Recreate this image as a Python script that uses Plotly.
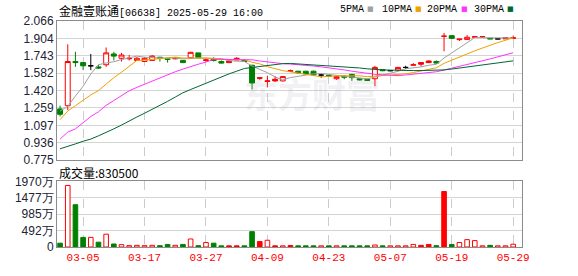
import plotly.graph_objects as go

dates = ["02-28", "03-03", "03-04", "03-05", "03-06", "03-07", "03-10", "03-11", "03-12", "03-13",
         "03-14", "03-17", "03-18", "03-19", "03-20", "03-21", "03-24", "03-25", "03-26", "03-27",
         "03-28", "03-31", "04-01", "04-02", "04-03", "04-07", "04-08", "04-09", "04-10", "04-11",
         "04-14", "04-15", "04-16", "04-17", "04-22", "04-23", "04-24", "04-25", "04-28", "04-29",
         "04-30", "05-02", "05-06", "05-07", "05-08", "05-09", "05-12", "05-13", "05-14", "05-15",
         "05-16", "05-19", "05-20", "05-21", "05-22", "05-23", "05-26", "05-27", "05-28", "05-29"]

opens = [1.25, 1.28, 1.69, 1.68, 1.65, 1.64, 1.66, 1.76, 1.72, 1.715,
         1.70, 1.69, 1.70, 1.73, 1.715, 1.715, 1.70, 1.725, 1.77, 1.70,
         1.715, 1.69, 1.695, 1.72, 1.70, 1.655, 1.54, 1.505, 1.525, 1.51,
         1.605, 1.60, 1.60, 1.60, 1.565, 1.56, 1.53, 1.555, 1.57, 1.53,
         1.525, 1.53, 1.615, 1.605, 1.61, 1.635, 1.655, 1.68, 1.695, 1.69,
         1.925, 1.93, 1.893, 1.895, 1.915, 1.918, 1.905, 1.90, 1.90, 1.905]
highs = [1.28, 1.85, 1.78, 1.68, 1.76, 1.66, 1.82, 1.78, 1.77, 1.75,
         1.73, 1.73, 1.75, 1.73, 1.72, 1.73, 1.70, 1.78, 1.77, 1.71,
         1.73, 1.70, 1.70, 1.73, 1.70, 1.66, 1.545, 1.555, 1.555, 1.555,
         1.615, 1.60, 1.60, 1.605, 1.57, 1.565, 1.555, 1.56, 1.575, 1.53,
         1.53, 1.65, 1.62, 1.61, 1.64, 1.65, 1.675, 1.68, 1.70, 1.70,
         1.955, 1.935, 1.90, 1.935, 1.92, 1.92, 1.905, 1.90, 1.915, 1.93]
lows = [1.18, 1.24, 1.64, 1.61, 1.61, 1.62, 1.64, 1.70, 1.69, 1.70,
        1.70, 1.69, 1.70, 1.69, 1.68, 1.71, 1.675, 1.72, 1.72, 1.69,
        1.69, 1.67, 1.675, 1.70, 1.685, 1.43, 1.52, 1.45, 1.50, 1.505,
        1.595, 1.58, 1.57, 1.56, 1.54, 1.55, 1.52, 1.525, 1.51, 1.515,
        1.51, 1.46, 1.60, 1.60, 1.605, 1.62, 1.655, 1.645, 1.675, 1.67,
        1.785, 1.90, 1.88, 1.89, 1.915, 1.915, 1.90, 1.90, 1.90, 1.90]
closes = [1.20, 1.69, 1.68, 1.65, 1.65, 1.63, 1.77, 1.74, 1.75, 1.72,
          1.72, 1.72, 1.74, 1.72, 1.71, 1.72, 1.68, 1.775, 1.725, 1.705,
          1.70, 1.675, 1.68, 1.705, 1.69, 1.49, 1.535, 1.51, 1.51, 1.55,
          1.60, 1.585, 1.575, 1.565, 1.565, 1.555, 1.55, 1.545, 1.54, 1.52,
          1.515, 1.635, 1.605, 1.605, 1.635, 1.635, 1.66, 1.665, 1.68, 1.675,
          1.925, 1.905, 1.898, 1.915, 1.92, 1.92, 1.90, 1.90, 1.91, 1.91]

# volume in 万 shares
volumes = [115, 1846, 1269, 288, 288, 144, 384, 90, 70, 40,
           50, 40, 50, 40, 77, 50, 77, 240, 40, 134,
           115, 35, 35, 35, 35, 461, 163, 202, 35, 35,
           45, 35, 35, 35, 35, 35, 35, 35, 35, 35,
           35, 60, 35, 35, 35, 35, 77, 50, 77, 40,
           1664, 77, 134, 221, 192, 35, 50, 35, 35, 83]

ma5 = [1.23, 1.274, 1.37, 1.46, 1.574, 1.660, 1.676, 1.688, 1.708, 1.722,
       1.740, 1.730, 1.730, 1.724, 1.722, 1.722, 1.714, 1.721, 1.722, 1.721,
       1.717, 1.716, 1.697, 1.693, 1.690, 1.648, 1.620, 1.586, 1.547, 1.519,
       1.541, 1.551, 1.562, 1.575, 1.578, 1.569, 1.562, 1.552, 1.547, 1.537,
       1.529, 1.546, 1.563, 1.575, 1.599, 1.623, 1.628, 1.640, 1.655, 1.664,
       1.722, 1.771, 1.817, 1.864, 1.912, 1.911, 1.910, 1.911, 1.910, 1.908]
ma10 = [1.15, 1.23, 1.28, 1.33, 1.38, 1.42, 1.48, 1.54, 1.59, 1.648,
        1.700, 1.703, 1.709, 1.716, 1.722, 1.731, 1.722, 1.726, 1.723, 1.722,
        1.720, 1.715, 1.709, 1.708, 1.706, 1.683, 1.668, 1.642, 1.620, 1.605,
        1.594, 1.585, 1.574, 1.560, 1.548, 1.554, 1.556, 1.557, 1.560, 1.557,
        1.549, 1.554, 1.557, 1.561, 1.568, 1.576, 1.587, 1.602, 1.615, 1.632,
        1.673, 1.700, 1.729, 1.760, 1.789, 1.817, 1.841, 1.865, 1.888, 1.910]
ma20 = [0.970, 1.035, 1.065, 1.119, 1.179, 1.223, 1.283, 1.328, 1.373, 1.418,
        1.45, 1.48, 1.51, 1.54, 1.57, 1.595, 1.62, 1.645, 1.665, 1.685,
        1.710, 1.709, 1.709, 1.711, 1.713, 1.706, 1.695, 1.685, 1.676, 1.670,
        1.666, 1.662, 1.656, 1.648, 1.640, 1.632, 1.624, 1.612, 1.600, 1.588,
        1.576, 1.571, 1.567, 1.562, 1.559, 1.565, 1.571, 1.579, 1.588, 1.595,
        1.611, 1.627, 1.643, 1.661, 1.678, 1.697, 1.714, 1.733, 1.752, 1.771]
ma30 = [0.88, 0.90, 0.925, 0.95, 0.97, 1.00, 1.03, 1.065, 1.10, 1.14,
        1.175, 1.21, 1.245, 1.28, 1.32, 1.36, 1.40, 1.43, 1.46, 1.49,
        1.52, 1.55, 1.575, 1.60, 1.625, 1.635, 1.645, 1.655, 1.665, 1.67,
        1.672, 1.668, 1.664, 1.66, 1.655, 1.65, 1.645, 1.64, 1.635, 1.63,
        1.622, 1.615, 1.612, 1.61, 1.607, 1.606, 1.606, 1.606, 1.606, 1.607,
        1.612, 1.62, 1.63, 1.64, 1.65, 1.66, 1.67, 1.678, 1.687, 1.696]

tick_dates = ["03-05", "03-17", "03-27", "04-09", "04-23", "05-07", "05-19", "05-29"]
price_ticks = ["0.775", "0.936", "1.097", "1.259", "1.420", "1.582", "1.743", "1.904", "2.066"]
vol_ticks = [0, 492, 985, 1477, 1970]
vol_tick_text = ["0", "492万", "985万", "1477万", "1970万"]
title_name = "金融壹账通"
title_rest = "[06638] 2025-05-29 16:00"
vol_title = "成交量:830500"
ma_names = ["5PMA", "10PMA", "20PMA", "30PMA"]

RED = "#ff0000"
GREEN = "#008000"
BLACK = "#000000"
MA_COLORS = ["#a0a0a0", "#f0a000", "#ff33ff", "#006633"]

n = len(dates)
xs = list(range(n))


def category(i):
    o, c = opens[i], closes[i]
    pc = closes[i - 1] if i > 0 else o
    if c > o:
        return "rh"
    if c < o:
        return "rs" if c >= pc else "g"
    if c > pc:
        return "rs"
    if c < pc:
        return "g"
    return "k"


cats = [category(i) for i in xs]
styles = {
    "rh": (RED, "#ffffff"),
    "rs": (RED, RED),
    "g": (GREEN, GREEN),
    "k": (BLACK, BLACK),
}

fig = go.Figure()

for key, (lc, fc) in styles.items():
    idx = [i for i in xs if cats[i] == key]
    if not idx:
        continue
    side = dict(line=dict(color=lc, width=1), fillcolor=fc)
    fig.add_trace(go.Candlestick(
        x=idx, open=[opens[i] for i in idx], high=[highs[i] for i in idx],
        low=[lows[i] for i in idx], close=[closes[i] for i in idx],
        increasing=side, decreasing=side, whiskerwidth=0,
        hoverinfo="skip", showlegend=False, xaxis="x", yaxis="y"))

for vals, col in zip([ma5, ma10, ma20, ma30], MA_COLORS):
    fig.add_trace(go.Scatter(x=xs, y=vals, mode="lines", line=dict(color=col, width=1),
                             hoverinfo="skip", showlegend=False, xaxis="x", yaxis="y"))

vol_styles = {"rh": (RED, "#ffffff"), "rs": (RED, RED), "g": (GREEN, GREEN)}
for key, (lc, fc) in vol_styles.items():
    idx = [i for i in xs if (cats[i] if cats[i] != "k" else "rh") == key]
    fig.add_trace(go.Bar(x=idx, y=[volumes[i] for i in idx], width=0.6,
                         marker=dict(color=fc, line=dict(color=lc, width=1)),
                         hoverinfo="skip", showlegend=False, xaxis="x2", yaxis="y2"))

# geometry helpers (pixel -> paper)
L, R, T, B = 57, 522, 21, 255
def px(x):
    return (x - L) / (R - L)
def py(y):
    return (B - y) / (B - T)

tickpos = [dates.index(d) for d in tick_dates]
price_vals = [float(t) for t in price_ticks]

axis_common = dict(showline=True, mirror=True, linecolor="#8c8c8c", linewidth=1,
                   zeroline=False, ticks="", fixedrange=True)

fig.update_layout(
    width=578, height=276,
    margin=dict(l=L, r=578 - R, t=T, b=276 - B),
    paper_bgcolor="white", plot_bgcolor="white",
    hovermode=False, showlegend=False,
    boxgap=0.2, boxgroupgap=0.2,
    bargap=0.3,
    xaxis=dict(domain=[0, 1], range=[-0.4, n + 0.15], anchor="y",
               tickvals=tickpos, showticklabels=False,
               showgrid=True, gridcolor="#cccccc", griddash="dash", gridwidth=1,
               rangeslider=dict(visible=False), **axis_common),
    yaxis=dict(domain=[py(165), 1], range=[price_vals[0], price_vals[-1]], anchor="x",
               tickvals=price_vals, ticktext=price_ticks,
               showgrid=True, gridcolor="#d4d4d4", gridwidth=1,
               tickfont=dict(family="Liberation Sans, Arial", size=12, color="#222233"),
               **axis_common),
    xaxis2=dict(domain=[0, 1], range=[-0.4, n + 0.15], anchor="y2",
                tickvals=tickpos, ticktext=tick_dates,
                showgrid=True, gridcolor="#cccccc", griddash="dash", gridwidth=1,
                tickfont=dict(family="Liberation Mono, DejaVu Sans Mono", size=11, color=RED),
                **axis_common),
    yaxis2=dict(domain=[0, py(187)], range=[0, 1970], anchor="x2",
                tickvals=vol_ticks, ticktext=vol_tick_text,
                showgrid=True, gridcolor="#d4d4d4", gridwidth=1,
                tickfont=dict(family="Liberation Sans, Arial", size=12, color="#222233"),
                **axis_common),
)

ann = []
ann.append(dict(xref="paper", yref="paper", x=px(57), y=py(10), xanchor="left", yanchor="middle",
                showarrow=False,
                text=title_name + '<span style="font-family:Liberation Mono;font-size:10px">'
                     + title_rest + '</span>',
                font=dict(family="Noto Sans CJK SC", size=12, color="#000000")))
leg_text_x = [338, 380, 425, 472]
leg_sq_x = [365, 413, 459, 505]
for name, col, tx, sx in zip(ma_names, MA_COLORS, leg_text_x, leg_sq_x):
    ann.append(dict(xref="paper", yref="paper", x=px(tx), y=py(9), xanchor="left", yanchor="middle",
                    showarrow=False, text=name,
                    font=dict(family="Liberation Mono", size=10, color="#000000")))
    ann.append(dict(xref="paper", yref="paper", x=px(sx), y=py(9), xanchor="left", yanchor="middle",
                    showarrow=False, text="■",
                    font=dict(family="DejaVu Sans", size=7, color=col)))
ann.append(dict(xref="paper", yref="paper", x=px(57), y=py(178), xanchor="left", yanchor="middle",
                showarrow=False, text=vol_title,
                font=dict(family="Noto Sans CJK SC", size=12, color="#000000")))
ann.append(dict(xref="paper", yref="paper", x=px(312), y=py(96), xanchor="center", yanchor="middle",
                showarrow=False, text="<b>东方财富</b>",
                font=dict(family="Noto Sans CJK SC", size=34, color="rgba(170,170,190,0.18)")))
fig.update_layout(annotations=ann)

fig.write_html("out.html")
